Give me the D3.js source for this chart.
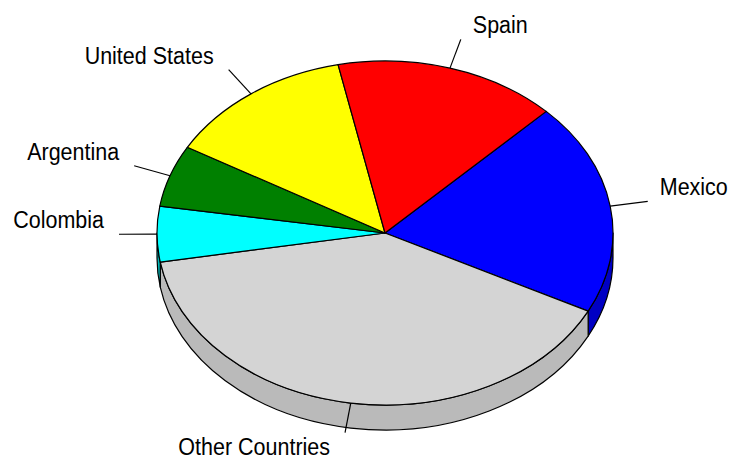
<!DOCTYPE html>
<html>
<head>
<meta charset="utf-8">
<script src="https://cdn.jsdelivr.net/npm/d3@7"></script>
<style>
  html, body { margin: 0; padding: 0; background: #fff; }
  svg { display: block; }
  text { font-family: "Liberation Sans", Arial, sans-serif; font-size: 21.5px; fill: #000; }
</style>
</head>
<body>
<svg id="chart" width="730" height="459"></svg>
<script>
// ---- data (percent shares) ----
const countries = ["Mexico", "Other Countries", "Colombia", "Argentina", "United States", "Spain"];
const shares    = [20.0, 39.8, 5.2, 5.8, 13.4, 15.8];
const topColors  = ["#0000ff", "#d4d4d4", "#00ffff", "#008000", "#ffff00", "#ff0000"];
const sideColors = ["#0000c4", "#bababa", "#00b8b8", "#005800", "#c0c000", "#c00000"];

// ---- geometry ----
const W = 730, H = 459;
const cx = 385, cy = 233, rx = 228, ry = 172, depth = 25;
const rxOut = rx + 38, ryOut = ry + 30;

const svg = d3.select("#chart");
const g = svg.append("g");

const pie = d3.pie().sort(null)
  .startAngle(Math.PI / 4)
  .endAngle(Math.PI / 4 + 2 * Math.PI);
const arcs = pie(shares);

// pie angle (clockwise from 12 o'clock) -> point on the projected ellipse
const px = (a, r = rx) => cx + r * Math.sin(a);
const py = (a, r = ry, dz = 0) => cy - r * Math.cos(a) + dz;

function topPath(d) {
  const a0 = d.startAngle, a1 = d.endAngle;
  const large = (a1 - a0) > Math.PI ? 1 : 0;
  return `M${cx},${cy}L${px(a0)},${py(a0)}A${rx},${ry} 0 ${large} 1 ${px(a1)},${py(a1)}Z`;
}

// visible rim: pie angles in [PI/2, 3PI/2] (+2PI k)
function sideSegments(d) {
  const segs = [];
  for (let k = -1; k <= 2; k++) {
    const lo = Math.PI / 2 + 2 * Math.PI * k, hi = 3 * Math.PI / 2 + 2 * Math.PI * k;
    const s0 = Math.max(d.startAngle, lo), s1 = Math.min(d.endAngle, hi);
    if (s1 > s0 + 1e-6) segs.push([s0, s1]);
  }
  return segs;
}
function sidePath(s0, s1) {
  const large = (s1 - s0) > Math.PI ? 1 : 0;
  return `M${px(s0)},${py(s0)}A${rx},${ry} 0 ${large} 1 ${px(s1)},${py(s1)}` +
         `L${px(s1)},${py(s1, ry, depth)}A${rx},${ry} 0 ${large} 0 ${px(s0)},${py(s0, ry, depth)}Z`;
}

// sides first
arcs.forEach((d, i) => {
  sideSegments(d).forEach(([s0, s1]) => {
    g.append("path")
      .attr("d", sidePath(s0, s1))
      .attr("fill", sideColors[i])
      .attr("stroke", "#000")
      .attr("stroke-width", 1.2)
      .attr("stroke-linejoin", "round");
  });
});

// top faces
g.selectAll("path.top")
  .data(arcs)
  .join("path")
  .attr("class", "top")
  .attr("d", topPath)
  .attr("fill", (d, i) => topColors[i])
  .attr("stroke", "#000")
  .attr("stroke-width", 1.2)
  .attr("stroke-linejoin", "round");

// leader lines and labels
arcs.forEach((d, i) => {
  const m = (d.startAngle + d.endAngle) / 2;
  const x0 = px(m), y0 = py(m);
  const x1 = px(m, rxOut), y1 = py(m, ryOut);
  g.append("line")
    .attr("x1", x0).attr("y1", y0).attr("x2", x1).attr("y2", y1)
    .attr("stroke", "#000").attr("stroke-width", 1.2);
  const right = Math.sin(m) >= 0;
  const bottom = Math.cos(m) < -0.9;
  const tx = x1 + (right ? 12 : -15);
  const ty = bottom ? y1 + 22 : y1 - 6;
  g.append("text")
    .attr("transform", `translate(${tx},${ty}) scale(1,1.15)`)
    .attr("text-anchor", right ? "start" : "end")
    .text(countries[i]);
});
</script>
</body>
</html>
